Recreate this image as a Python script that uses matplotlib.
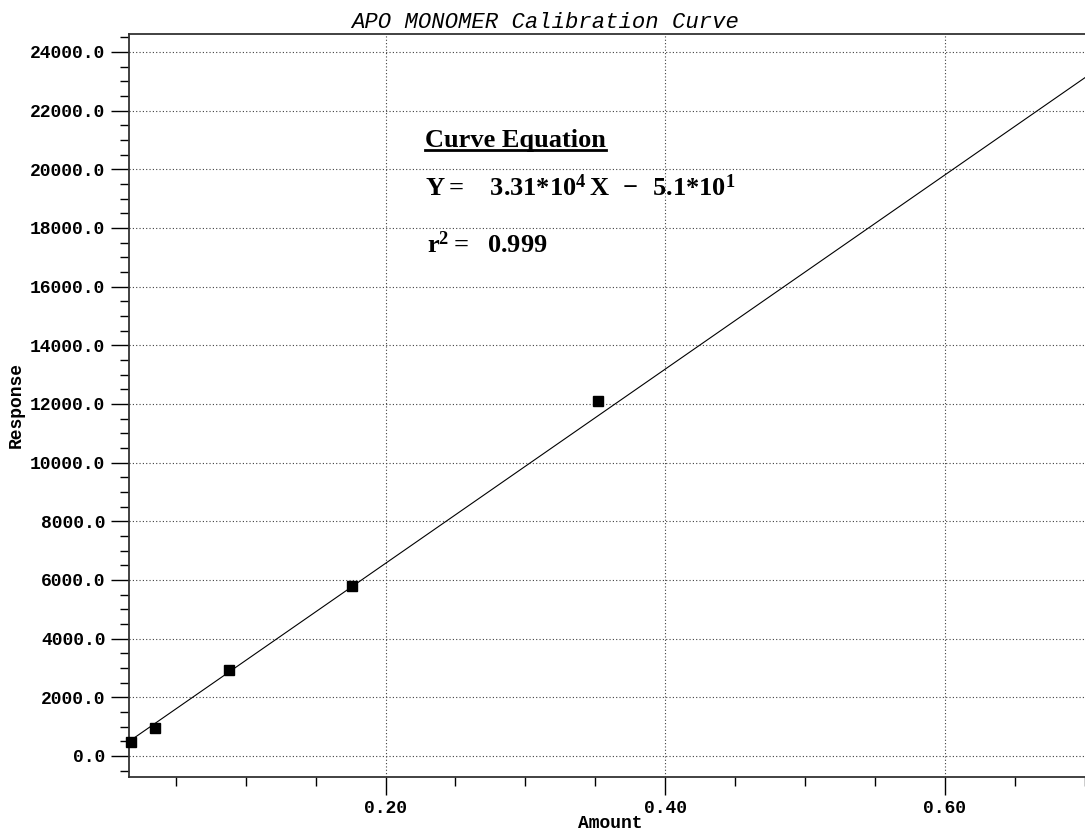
import matplotlib
matplotlib.use("Agg")
import matplotlib.pyplot as plt
from matplotlib.ticker import MultipleLocator, FormatStrFormatter
from matplotlib.lines import Line2D

# calibration standards
amount = [0.0176, 0.0352, 0.088, 0.176, 0.352]
response = [490, 965, 2930, 5800, 12100]

# fitted curve Y = slope * X + intercept
slope = 3.31e4
intercept = -51.0
fit_x = [0.0165, 0.7002]

x_ticks = [0.20, 0.40, 0.60]
y_ticks = [0, 2000, 4000, 6000, 8000, 10000, 12000, 14000, 16000, 18000, 20000, 22000, 24000]

title = "APO MONOMER Calibration Curve"
eq_head = "Curve Equation"
eq_line = r"$\mathbf{Y{=}\ \ \ 3.31{*}10^{4}\,X\ \ {-}\ \ 5.1{*}10^{1}}$"
r2_line = r"$\mathbf{r^{2}{=}\ \ 0.999}$"

plt.rcParams['mathtext.fontset'] = 'custom'
plt.rcParams['mathtext.rm'] = 'Liberation Serif:bold'
plt.rcParams['mathtext.it'] = 'Liberation Serif:bold'
plt.rcParams['mathtext.bf'] = 'Liberation Serif:bold'

W, H = 1085, 833
fig = plt.figure(figsize=(W / 100, H / 100), dpi=100)
ax = fig.add_axes([129 / W, 1 - 777 / H, 1 - 129 / W, (777 - 34) / H])

fit_y = [slope * x + intercept for x in fit_x]
ax.plot(fit_x, fit_y, color='black', lw=0.8, zorder=3)
ax.plot(amount, response, ls='none', marker='s', ms=6.5, color='black', zorder=4, clip_on=False)

ax.set_xlim(0.0165, 0.7002)
ax.set_ylim(-716, 24613)

ax.xaxis.set_major_locator(plt.FixedLocator(x_ticks))
ax.xaxis.set_minor_locator(MultipleLocator(0.05))
ax.yaxis.set_major_locator(plt.FixedLocator(y_ticks))
ax.yaxis.set_minor_locator(MultipleLocator(500))
ax.xaxis.set_major_formatter(FormatStrFormatter('%.2f'))
ax.yaxis.set_major_formatter(FormatStrFormatter('%.1f'))

# lengths in points (100 dpi): ~18 px major, ~9 px minor
ax.tick_params(axis='both', which='major', direction='out', length=13, width=1.0, color='black')
ax.tick_params(axis='both', which='minor', direction='out', length=6.5, width=1.0, color='black')
ax.tick_params(axis='x', pad=3.5)
ax.tick_params(axis='y', pad=4)
ax.tick_params(top=False, right=False, which='both')

for lab in ax.get_xticklabels() + ax.get_yticklabels():
    lab.set_family('Liberation Mono')
    lab.set_fontweight('bold')
    lab.set_fontsize(13)

ax.grid(True, which='major', ls=(0, (1, 2)), lw=0.8, color='0.25')

ax.spines['right'].set_visible(False)
for s in ['left', 'bottom', 'top']:
    ax.spines[s].set_linewidth(1.3)
    ax.spines[s].set_color('0.2')

fig.text(545 / W, 1 - 22 / H, title, ha='center', va='center',
         family='Liberation Mono', style='italic', fontsize=16)
fig.text(610 / W, 1 - 824 / H, "Amount", ha='center', va='center',
         family='Liberation Mono', fontweight='bold', fontsize=13)
fig.text(16 / W, 1 - 405 / H, "Response", ha='center', va='center', rotation=90,
         family='Liberation Mono', fontweight='bold', fontsize=13)

head = fig.text(425 / W, 1 - 140 / H, eq_head, ha='left', va='center',
                family='Liberation Serif', fontweight='bold', fontsize=19)
fig.text(425 / W, 1 - 189 / H, eq_line, ha='left', va='center', fontsize=19)
fig.text(427 / W, 1 - 246 / H, r2_line, ha='left', va='center', fontsize=19)

fig.canvas.draw()
bb = head.get_window_extent().transformed(fig.transFigure.inverted())
fig.add_artist(Line2D([bb.x0, bb.x1], [bb.y0 + 0.002, bb.y0 + 0.002],
                      transform=fig.transFigure, color='black', lw=2))

fig.savefig("out.png", dpi=100)
